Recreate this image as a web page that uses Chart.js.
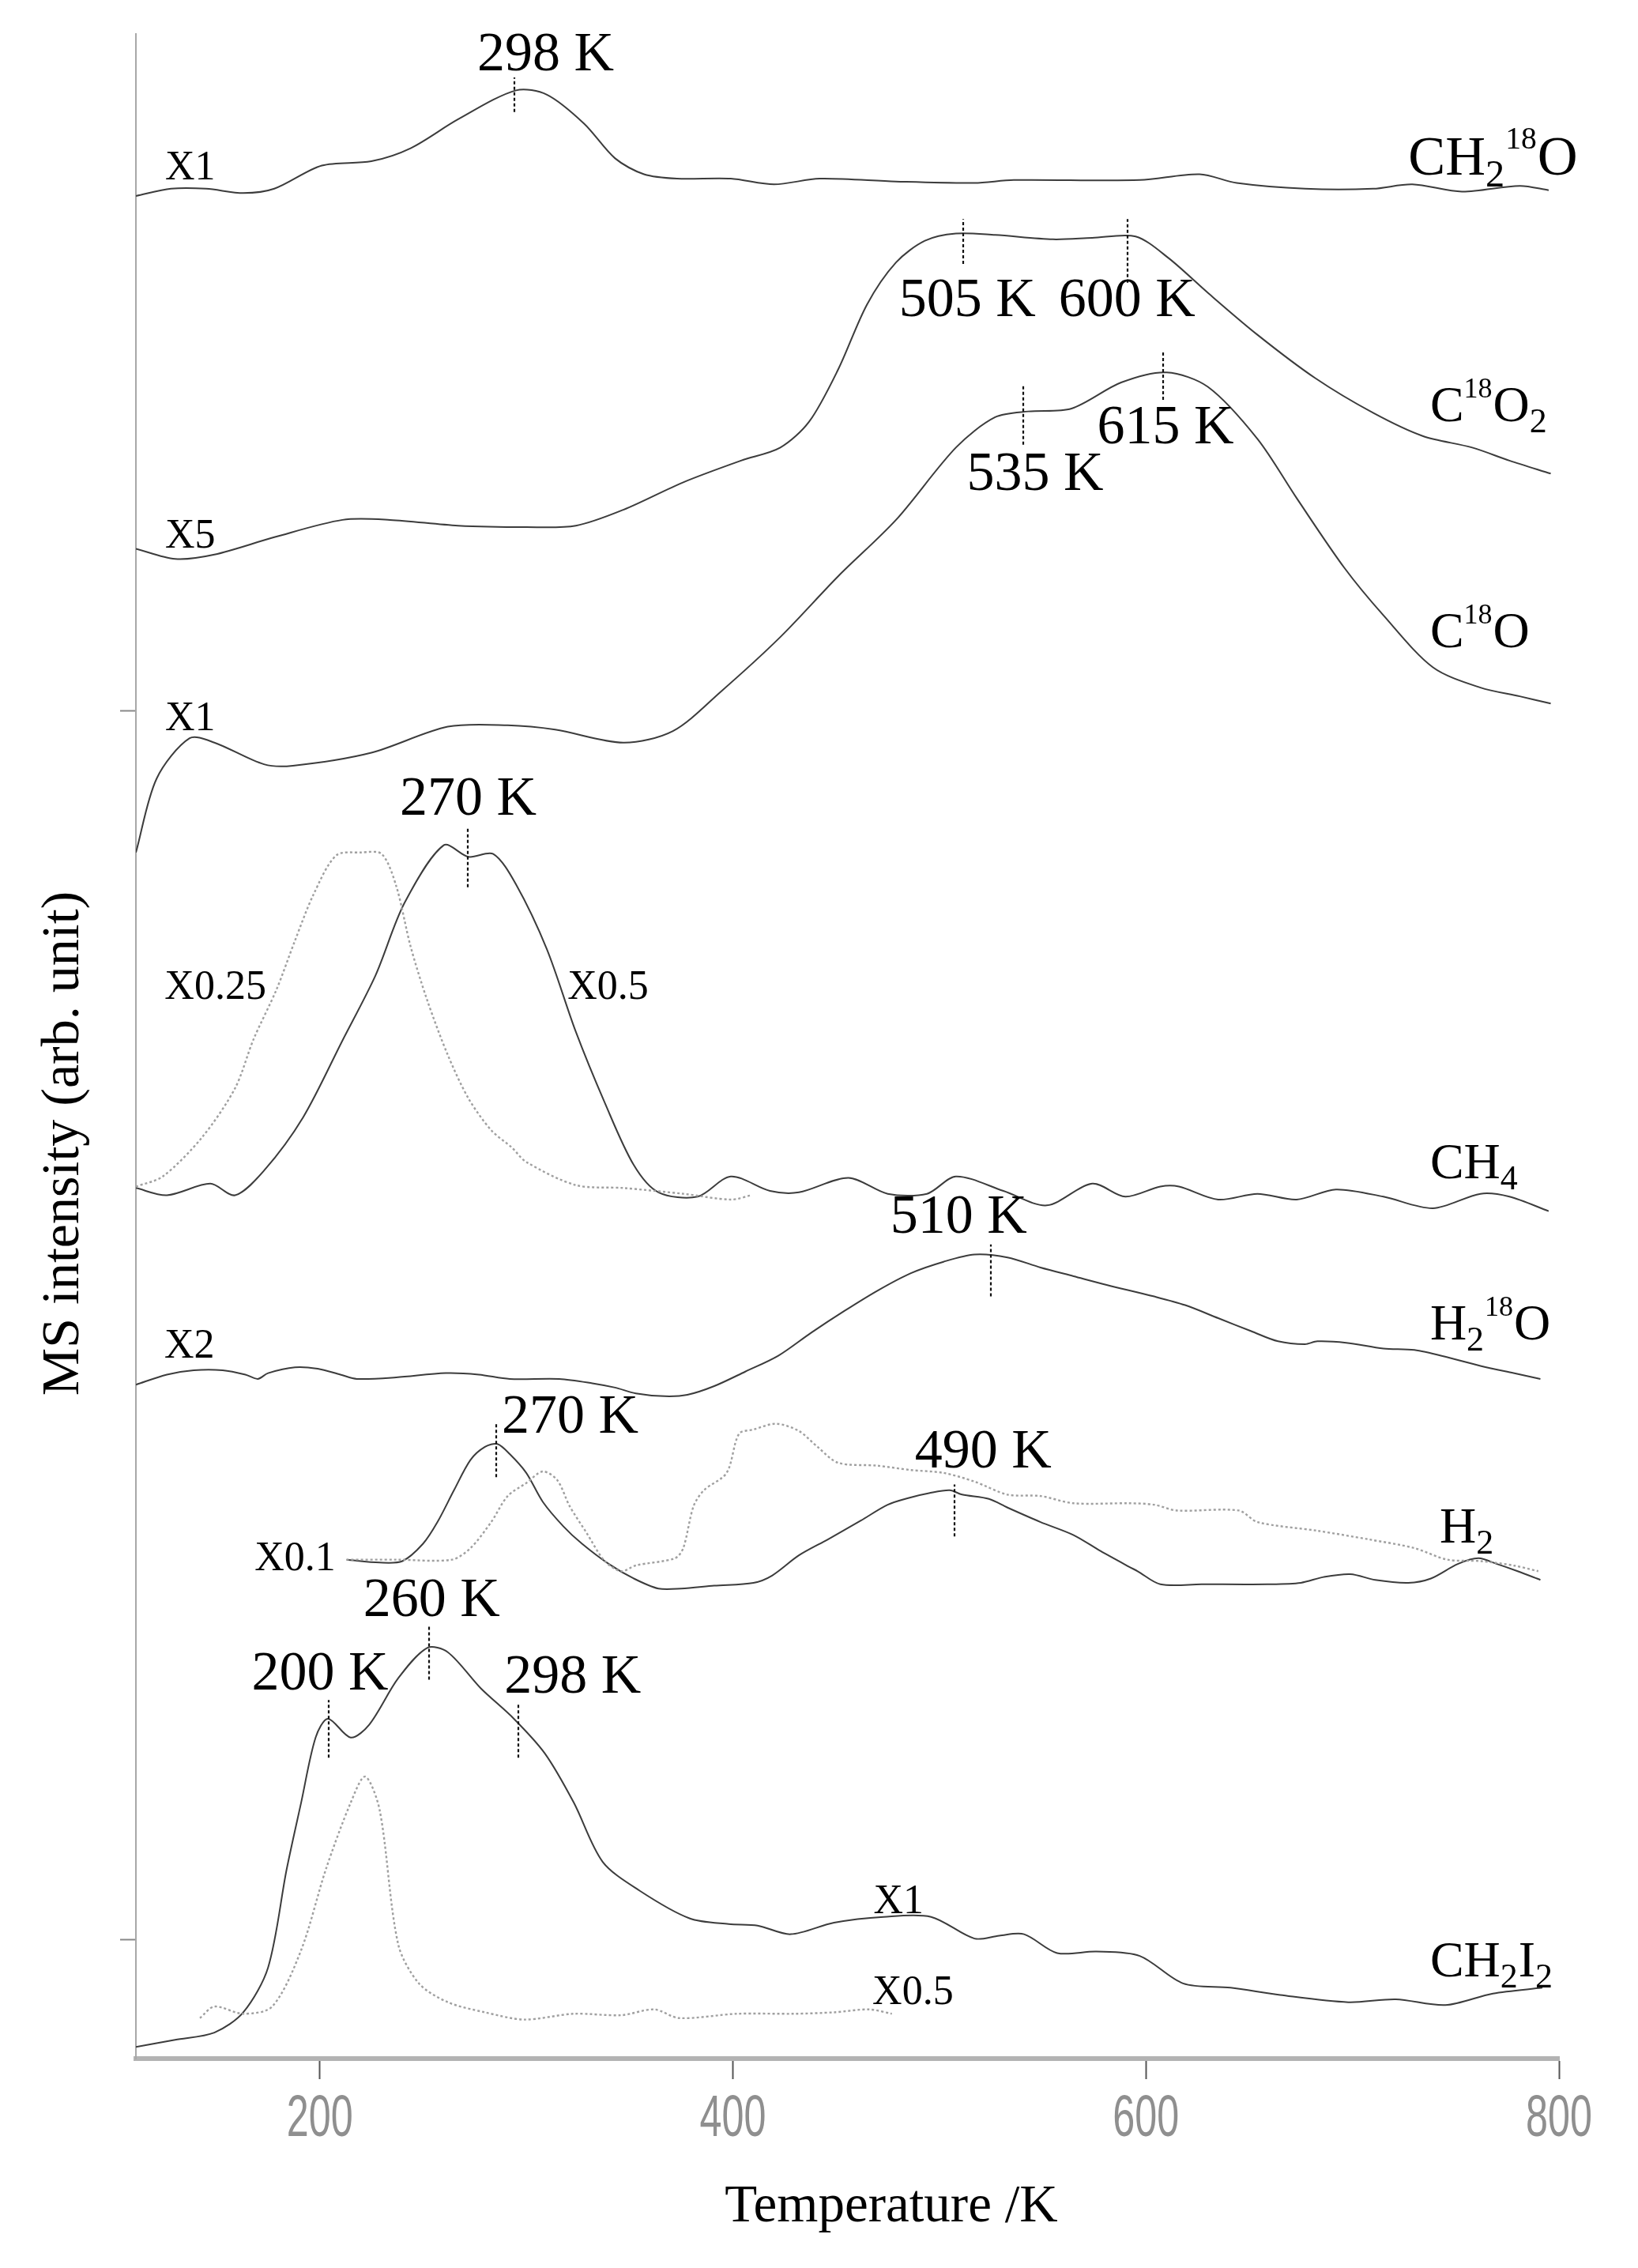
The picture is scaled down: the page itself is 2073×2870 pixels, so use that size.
<!DOCTYPE html>
<html><head><meta charset="utf-8">
<script src="https://cdn.jsdelivr.net/npm/chart.js@4.4.1/dist/chart.umd.min.js"></script>
<style>html,body{margin:0;padding:0;background:#fff;} canvas{display:block;}</style>
</head><body>
<canvas id="c" width="2073" height="2870"></canvas>
<script>
// ---- DATA (temperature in K, intensity in arbitrary stacked units) ----
const ch2oT = [111,128,145,163,178,201,225,244,267,295,310,328,343,357,373,399,420,442,479,517,536,597,626,644,677,710,729,753,781,795];
const ch2oY = [1288,1293,1293,1290,1293,1309,1312,1321,1341,1361,1358,1338,1314,1303,1300,1300,1296,1300,1298,1297,1299,1299,1303,1297,1293,1293,1296,1291,1295,1292];

const co2T = [111,130,149,178,211,234,267,300,324,347,376,404,423,437,451,465,479,493,508,527,555,574,595,611,630,654,682,710,734,758,776,796];
const co2Y = [1044,1037,1040,1052,1064,1064,1060,1059,1060,1071,1090,1105,1114,1132,1168,1213,1242,1257,1262,1261,1258,1259,1260,1245,1221,1192,1162,1138,1122,1114,1105,1096];

const coT = [111,121,137,149,173,187,225,262,291,314,347,371,394,423,451,479,508,527,543,564,588,610,630,654,673,696,715,739,762,781,796];
const coY = [834,885,913,910,895,894,903,921,922,919,910,918,945,983,1025,1064,1114,1135,1139,1141,1159,1166,1156,1120,1079,1031,998,962,948,942,937];

const ch4T = [111,126,147,159,173,192,211,227,241,260,272,284,295,310,324,338,352,364,383,399,418,432,456,475,494,508,531,552,574,590,607,616,635,654,673,692,715,739,762,776,795];
const ch4Y = [602,597,605,597,614,651,704,749,799,839,831,833,812,767,710,661,618,599,596,610,600,599,609,598,598,610,600,590,605,596,603,603,594,598,594,601,596,588,598,596,586];

const ch4dT = [111,124,143,159,168,179,188,197,208,220,230,237,244,252,262,272,283,293,300,324,347,376,399,409];
const ch4dY = [603,610,637,671,705,739,773,805,832,834,833,811,769,732,694,664,642,630,620,604,602,598,594,597];

const h2oT = [111,126,139,153,164,170,175,188,199,210,218,237,261,277,292,316,332,343,353,367,378,391,406,422,438,454,470,486,502,517,533,549,565,581,604,619,635,651,664,677,683,697,715,730,746,762,778,791];
const h2oY = [466,473,476,476,473,470,474,478,477,473,470,471,474,473,470,470,467,464,460,458,459,465,475,486,502,517,531,543,551,556,554,547,541,535,527,521,512,503,496,494,496,495,491,490,485,479,474,470];

const h2T = [213,229,240,250,257,265,273,280,286,292,300,308,318,327,340,352,364,375,391,410,419,432,446,462,475,486,495,505,511,524,533,549,565,578,592,596,607,627,659,675,686,699,711,727,738,751,761,770,780,791];
const h2Y = [345,343,344,356,371,393,414,423,425,418,405,385,368,356,342,332,325,325,327,329,334,348,359,372,383,388,391,393,390,387,381,371,362,351,340,337,328,328,328,329,333,335,331,329,332,342,346,342,337,331];

const h2dT = [213,237,264,273,283,291,300,308,315,321,329,338,346,353,372,376,381,386,397,403,410,421,432,441,451,470,486,502,517,533,549,565,592,604,615,645,654,683,708,730,746,762,778,790];
const h2dY = [345,345,345,353,371,389,398,406,400,382,364,344,337,341,346,353,382,393,405,432,435,439,434,423,412,410,407,405,399,390,389,384,384,383,379,379,371,365,359,353,345,344,341,337];

const ch2i2T = [111,130,149,163,175,184,191,198,204,215,224,238,252,262,278,294,309,323,337,355,379,398,412,428,449,473,496,517,529,541,557,576,597,618,641,665,698,721,745,768,792];
const ch2i2Y = [8,13,18,32,63,131,177,222,235,222,231,263,284,281,256,235,211,177,136,116,97,93,92,86,94,98,98,83,85,86,73,74,71,52,49,44,39,41,37,45,49];

const ch2i2dT = [142,149,163,177,191,203,215,222,229,238,248,262,280,299,323,346,362,374,402,430,449,466,477];
const ch2i2dY = [28,36,31,36,75,131,177,195,172,79,52,39,32,27,31,30,34,28,31,31,32,34,31];

const xTickValues = [200,400,600,800];
const xTickLabels = ['200','400','600','800'];
const yTickValues = [82,932];

const xTitle = 'Temperature /K';
const yTitle = 'MS intensity (arb. unit)';

// text annotations (data coordinates)
const peakLabels = [
  ['298 K',309.4,1385],['505 K',513.6,1215],['600 K',590.8,1215],['615 K',609.5,1127],
  ['535 K',546.4,1095],['270 K',271.9,870],['510 K',509.4,581],['270 K',321.2,443],
  ['490 K',521.2,419],['260 K',254.2,316],['200 K',200.1,265],['298 K',322.5,263]
];
const scaleLabels = [
  ['X1',137.3,1307],['X5',137.3,1052],['X1',137.3,926],['X0.25',149.5,740],['X0.5',339.6,740],
  ['X2',136.9,492],['X0.1',188.1,345],['X1',480.3,108],['X0.5',487.2,45]
];
const speciesLabels = [
  [[['CH','n'],['2','sub'],['18','sup'],['O','n']],727,1303,1.1],
  [[['C','n'],['18','sup'],['O','n'],['2','sub']],737.6,1132,1],
  [[['C','n'],['18','sup'],['O','n']],737.6,976,1],
  [[['CH','n'],['4','sub']],737.6,609,1],
  [[['H','n'],['2','sub'],['18','sup'],['O','n']],737.6,497,1],
  [[['H','n'],['2','sub']],742.2,357,1],
  [[['CH','n'],['2','sub'],['I','n'],['2','sub']],737.6,57,1]
];
const peakMarkers = [
  [294.4,1346,1370],[511.6,1241,1272],[591.2,1228,1272],[608.4,1147,1180],[540.7,1116,1157],
  [271.5,810,852],[525.0,527,563],[507.4,361,397],[285.6,402,439],[253.1,262,300],
  [204.2,208,248],[296.0,208,245]
];

// ---- chart ----
const SERIF = "'Liberation Serif','Times New Roman',serif";
const SOLID = '#3c3c3c', DOT = '#a0a0a0';
function pts(T, Y){ return T.map((t,i)=>({x:t, y:Y[i]})); }
function ds(label, T, Y, dotted){
  return {label, data: pts(T,Y), borderColor: dotted?DOT:SOLID, borderWidth: dotted?2.4:2,
          borderDash: dotted?[3,3]:[], pointRadius:0, tension:0.3, fill:false};
}

const annot = {
  id:'annot',
  afterDraw(chart){
    const ctx = chart.ctx, xs = chart.scales.x, ys = chart.scales.y;
    ctx.save();
    // x tick labels (condensed, at the scale's tick positions)
    ctx.fillStyle = '#8f8f8f'; ctx.textAlign = 'center'; ctx.textBaseline = 'middle';
    ctx.font = "74px 'Liberation Sans', Arial, sans-serif";
    xs.ticks.forEach(tk=>{
      const i = xTickValues.indexOf(tk.value); if (i < 0) return;
      ctx.save();
      ctx.translate(xs.getPixelForValue(tk.value), xs.bottom - 120 + 78);
      ctx.scale(0.68, 1);
      ctx.fillText(xTickLabels[i], 0, 0);
      ctx.restore();
    });
    // peak markers
    ctx.strokeStyle = '#111'; ctx.lineWidth = 2.2; ctx.setLineDash([4,3]);
    peakMarkers.forEach(([t,y1,y2])=>{
      const px = Math.round(xs.getPixelForValue(t));
      ctx.beginPath(); ctx.moveTo(px, ys.getPixelForValue(y1)); ctx.lineTo(px, ys.getPixelForValue(y2)); ctx.stroke();
    });
    ctx.setLineDash([]);
    ctx.fillStyle = '#000'; ctx.textAlign = 'center'; ctx.textBaseline = 'middle';
    ctx.font = '70px ' + SERIF;
    peakLabels.forEach(([s,t,y])=> ctx.fillText(s, xs.getPixelForValue(t), ys.getPixelForValue(y)));
    ctx.font = '52px ' + SERIF;
    scaleLabels.forEach(([s,t,y])=> ctx.fillText(s, xs.getPixelForValue(t), ys.getPixelForValue(y)));
    // species labels with sub/superscripts
    ctx.textAlign = 'left'; ctx.textBaseline = 'alphabetic';
    speciesLabels.forEach(([parts,t,y,k0])=>{
      let px = xs.getPixelForValue(t); const base = ys.getPixelForValue(y);
      parts.forEach(([s,k])=>{
        let dy = 0;
        if (k==='n'){ ctx.font = (64*k0) + 'px ' + SERIF; }
        else if (k==='sub'){ ctx.font = (44*k0) + 'px ' + SERIF; dy = 14*k0; }
        else { ctx.font = (36*k0) + 'px ' + SERIF; dy = -30*k0; }
        ctx.fillText(s, px, base + dy);
        px += ctx.measureText(s).width + (k==='n'?0:1);
      });
    });
    // axis titles
    ctx.textAlign = 'center'; ctx.textBaseline = 'middle';
    ctx.font = '67px ' + SERIF;
    ctx.fillText(xTitle, 1128, 2793);
    ctx.translate(81, 1447); ctx.rotate(-Math.PI/2);
    ctx.font = '68px ' + SERIF;
    ctx.fillText(yTitle, 0, 0);
    ctx.restore();
  }
};

new Chart(document.getElementById('c'), {
  type:'line',
  data:{ datasets:[
    ds('CH2 18O', ch2oT, ch2oY, false),
    ds('C18O2', co2T, co2Y, false),
    ds('C18O', coT, coY, false),
    ds('CH4 x0.25', ch4dT, ch4dY, true),
    ds('CH4 x0.5', ch4T, ch4Y, false),
    ds('H2 18O', h2oT, h2oY, false),
    ds('H2 dotted', h2dT, h2dY, true),
    ds('H2', h2T, h2Y, false),
    ds('CH2I2 x0.5', ch2i2dT, ch2i2dY, true),
    ds('CH2I2 x1', ch2i2T, ch2i2Y, false)
  ]},
  options:{
    responsive:false, animation:false, devicePixelRatio:1,
    layout:{ padding:{ left:152, right:100, top:43, bottom:145 } },
    plugins:{ legend:{display:false}, tooltip:{enabled:false}, title:{display:false} },
    scales:{
      x:{ type:'linear', min:111, max:800,
        afterBuildTicks:(s)=>{ s.ticks = xTickValues.map(v=>({value:v})); },
        afterFit:(s)=>{ s.height = 120; },
        ticks:{ display:false, autoSkip:false },
        grid:{ drawOnChartArea:false, drawTicks:true, tickLength:26, tickWidth:2, tickColor:'#555' },
        border:{ display:true, color:'#b3b3b3', width:6 }
      },
      y:{ type:'linear', min:0, max:1400,
        afterBuildTicks:(s)=>{ s.ticks = yTickValues.map(v=>({value:v})); },
        afterFit:(s)=>{ s.width = 20; },
        ticks:{ display:false },
        grid:{ drawOnChartArea:false, drawTicks:true, tickLength:20, tickWidth:2, tickColor:'#888' },
        border:{ display:true, color:'#a8a8a8', width:2 }
      }
    }
  },
  plugins:[annot]
});
</script>
</body></html>
